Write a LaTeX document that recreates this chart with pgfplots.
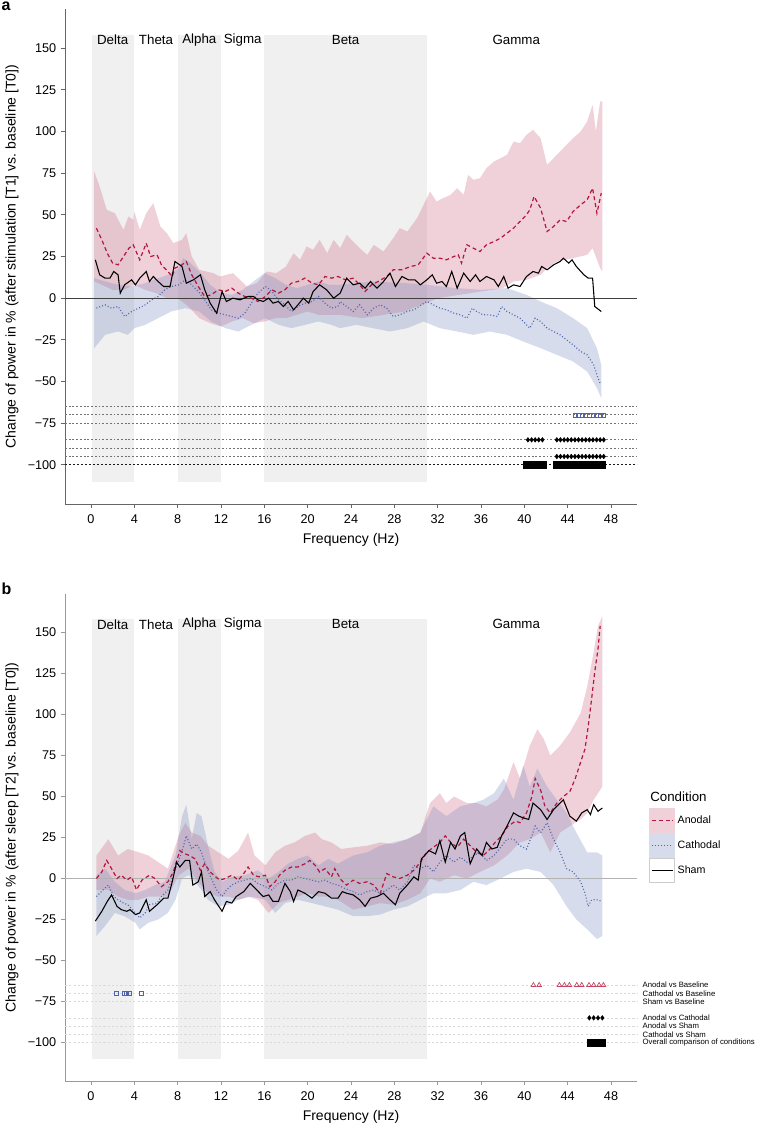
\documentclass[border=0pt]{standalone}
\usepackage{fontspec}
\setmainfont{Liberation Sans}
\usepackage{pgfplots}
\usepackage{pgfplotstable}
\pgfplotsset{compat=1.18}

\definecolor{anod}{RGB}{178,24,62}
\definecolor{cath}{RGB}{80,100,172}
\definecolor{anodfill}{RGB}{205,100,130}
\definecolor{cathfill}{RGB}{120,140,190}
\definecolor{band}{RGB}{240,240,240}
\newcommand{\tfont}{\fontsize{9.5}{11}\selectfont}
\newcommand{\lfont}{\fontsize{10.5}{12}\selectfont}
\newcommand{\sfont}{\fontsize{5.8}{6.5}\selectfont}

% ---------------- Panel a mean curves ----------------
\pgfplotstableread{
x y
0.5 42
1.0 35
1.5 27
2.0 21
2.5 20
3.0 25
3.5 30
3.9 32
4.5 23
5.1 33
5.5 25
6.1 26
6.5 20
7.1 16
7.5 13
7.75 18
8.4 20
8.8 22
9.3 14
9.9 7
10.5 1
11.1 2
11.75 5
12.4 4
13 6
13.6 3
14.2 1
14.8 0
15.4 -2
16.1 1
16.7 5
17.3 3
17.9 5
18.5 9
19.1 10
19.75 12
20.4 9
21 8
21.6 13
22.2 12
22.8 13
23.5 11
24.2 12
24.8 8
25.3 4
25.9 8
26.5 10
27.3 13
27.9 17
28.7 17
29.5 19
30.2 20
31.0 27
31.6 24
32.2 24
32.8 23
33.5 25
33.9 26
34.2 21
34.7 32
35.3 30
35.9 28
36.5 32
37.2 34
37.8 36
38.4 39
39.0 42
39.6 46
40.2 50
40.5 53
40.9 61
41.5 54
42.1 40
42.7 43
43.3 47
43.9 46
44.5 52
45.2 56
45.8 59
46.3 66
46.7 51
47.1 63
}\AmeanA
\pgfplotstableread{
x y
0.5 -6
1.3 -4
1.9 -6
2.5 -5
3.1 -11
3.75 -8
4.4 -6
5.0 -4
5.6 -1
6.2 1
6.8 5
7.4 7
8.1 8
8.7 11
9.3 8
9.9 4
10.5 -1
11.1 -7
11.75 -9
12.4 -10
13.0 -11
13.6 -12
14.2 -9
14.8 -3
15.4 3
16.1 7
16.7 4
17.3 -1
17.9 -4
18.5 -8
19.1 -5
19.75 -3
20.4 -2
21.0 1
21.6 -3
22.2 -6
22.8 -5
23.0 -2
23.6 -5
24.2 -8
24.8 -4
25.5 -10
26.1 -6
26.7 -4
27.3 -6
27.9 -11
28.5 -10
29.2 -8
29.8 -7
30.5 -4
31.0 -2
31.6 -4
32.2 -6
32.8 -7
33.5 -9
34.1 -10
34.7 -12
35.2 -6
35.6 -8
36.2 -10
36.8 -10
37.5 -11
37.9 -5
38.4 -8
39.0 -10
39.6 -12
40.2 -16
40.5 -18
41.0 -12
41.5 -14
42.1 -18
42.7 -20
43.3 -22
43.9 -25
44.5 -28
45.2 -32
45.8 -34
46.4 -40
46.8 -48
47.0 -51
}\CmeanA
\pgfplotstableread{
x y
0.4 23
0.8 14
1.3 12
1.75 12
2.1 16
2.5 14
2.7 3
3.1 8
3.75 11
4.1 8
4.5 12
5.1 16
5.4 10
5.75 13
6.2 10
6.7 7
7.3 7
7.75 22
8.4 19
8.8 9
9.45 11
10.1 14
10.5 5
11.0 -3
11.6 -9
12.1 4
12.5 -2
13.1 0
13.75 -1
14.5 1
15.0 1
15.4 -1
15.9 -2
16.4 0
16.8 -3
17.3 -2
17.75 -5
18.2 -2
18.7 -7
19.1 -4
19.6 0
20.1 -3
20.5 4
21.1 8
21.75 5
22.4 0
23.0 3
23.6 12
24.2 8
24.8 9
25.3 6
25.8 10
26.4 6
27.0 10
27.6 15
28.1 7
28.7 13
29.3 11
29.9 11
30.4 8
31.0 11
31.5 14
31.9 9
32.4 10
32.8 7
33.3 16
33.8 6
34.4 15
35.0 10
35.5 14
35.9 10
36.5 13
37.2 11
37.6 7
38.1 13
38.5 6
39.0 8
39.6 7
40.2 13
40.8 16
41.3 15
41.6 19
42.1 17
42.7 20
43.3 22
43.6 24
44.1 21
44.4 23
44.8 19
45.5 14
45.9 12
46.3 12
46.5 -5
47.1 -8
}\SmeanA

% ---------------- Panel b mean curves ----------------
\pgfplotstableread{
x y
0.5 0
1.0 4
1.45 11
1.9 6
2.4 0
2.8 2
3.3 -1
3.75 1
4.2 -7
4.7 -1
5.4 2
5.9 0
6.5 -5
7.1 -2
7.6 4
8.2 17
8.7 15
9.1 14
9.6 12
10.1 5
10.5 9
11.0 4
11.5 1
11.9 -1
12.4 0
13.0 2
13.6 -1
14.1 3
14.5 7
15.0 2
15.5 1
16.1 2
16.5 -5
17.0 -2
17.4 2
17.9 5
18.5 7
19.1 7
19.75 9
20.2 11
20.7 8
21.1 4
21.6 6
22.2 1
22.5 6
23.1 -1
23.6 -4
24.2 -1
24.8 -3
25.5 -2
26.1 -4
26.7 -9
27.3 3
27.9 1
28.5 0
29.2 2
29.8 5
30.4 10
31.0 16
31.6 19
32.2 22
32.7 26
33.2 22
33.8 19
34.4 24
35.0 20
35.6 16
36.2 14
36.7 17
37.3 22
37.9 26
38.5 32
39.2 35
39.6 34
40.2 40
40.7 50
41.0 61
41.5 54
41.9 44
42.4 40
43.0 46
43.6 50
44.2 53
44.7 61
45.2 71
45.6 79
45.9 93
46.2 109
46.5 126
46.8 140
47.0 154
}\AmeanB
\pgfplotstableread{
x y
0.5 -11
1.1 -7
1.6 -4
2.1 -11
2.5 -13
3.0 -15
3.4 -16
4.1 -21
4.5 -24
5.0 -21
5.4 -16
6.1 -15
6.5 -11
7.1 -7
7.6 2
8.1 11
8.5 19
8.8 26
9.3 18
9.75 21
10.2 16
10.7 6
11.1 0
11.6 -7
12.1 -11
12.5 -7
13.0 -4
13.6 -2
14.2 -1
14.8 0
15.4 -3
16.1 -5
16.7 -7
17.3 -3
17.9 -1
18.5 -1
19.1 1
19.75 0
20.4 -1
21.0 -2
21.6 -1
22.2 -3
22.8 -4
23.4 -6
24.2 -8
24.8 -10
25.5 -8
26.1 -7
26.7 -9
27.3 -7
27.9 -4
28.5 -7
29.2 -2
29.8 8
30.4 6
31.0 8
31.6 4
32.2 10
32.8 14
33.5 10
34.1 13
34.7 10
35.3 14
35.9 16
36.5 11
37.2 14
37.8 19
38.4 24
39.0 24
39.6 20
40.2 18
40.7 26
41.0 32
41.5 28
42.1 34
42.7 24
43.3 16
43.9 6
44.5 4
45.2 -2
45.6 -9
45.9 -17
46.2 -13
46.7 -13
47.2 -14
}\CmeanB
\pgfplotstableread{
x y
0.4 -26
1.0 -20
1.5 -14
1.9 -10
2.4 -17
2.8 -19
3.3 -20
3.6 -19
4.1 -22
4.5 -21
5.1 -13
5.4 -20
6.1 -16
6.7 -12
7.1 -12
7.5 -2
7.9 10
8.2 7
8.7 11
9.1 11
9.4 -4
9.9 -2
10.2 4
10.5 -11
11.0 -8
11.4 -13
12.1 -20
12.5 -14
13.0 -15
13.4 -11
14.1 -8
14.7 -3
15.3 -7
15.9 -11
16.4 -10
16.8 -14
17.3 -14
17.9 -3
18.4 -8
18.7 -14
19.1 -7
19.75 -9
20.4 -12
21.0 -8
21.6 -9
22.2 -12
22.8 -12
23.2 -8
23.6 -9
24.2 -10
24.8 -13
25.3 -17
25.8 -12
26.4 -11
27.0 -9
27.6 -13
28.1 -16
28.5 -9
29.2 -4
29.8 1
30.2 -1
30.5 12
31.2 17
31.8 15
32.2 23
32.7 10
33.2 22
33.6 18
34.1 26
34.5 28
35.0 9
35.6 18
36.1 14
36.5 22
37.0 18
37.5 19
37.9 26
38.4 32
39.0 40
39.5 38
39.9 37
40.4 36
40.8 46
41.5 42
42.1 36
42.7 42
43.6 48
44.2 38
44.8 35
45.3 40
45.8 42
46.1 39
46.4 45
46.8 41
47.2 43
}\SmeanB

\pgfplotsset{
  panel/.style={
    scale only axis, width=429pt,
    xmin=-2.4, xmax=50.4, ymin=-123.5, ymax=173.5,
    axis x line*=bottom, axis y line*=left,
    xtick={0,4,...,48},
    xticklabels={0,4,8,12,16,20,24,28,32,36,40,44,48},
    ytick={-100,-75,-50,-25,0,25,50,75,100,125,150},
    yticklabels={−100,−75,−50,−25,0,25,50,75,100,125,150},
    tick align=outside, major tick length=3pt,
    xticklabel style={font=\tfont, yshift=-1.2pt},
    yticklabel style={font=\tfont},
    xlabel={Frequency (Hz)},
    xlabel style={font=\lfont, anchor=center},
    ylabel style={font=\lfont, anchor=center},
    clip=false,
  },
  bandrect/.style={fill=band, draw=none, forget plot},
  anodline/.style={anod, line width=0.9pt, dash pattern=on 3pt off 2.2pt},
  cathline/.style={cath, line width=0.9pt, dash pattern=on 0.7pt off 1.6pt},
  shamline/.style={black, line width=0.8pt},
  ribA/.style={fill=anodfill, fill opacity=0.3, draw=none, forget plot},
  ribC/.style={fill=cathfill, fill opacity=0.3, draw=none, forget plot},
  rowa/.style={black!55, line width=0.6pt, dash pattern=on 1.4pt off 1.4pt, forget plot},
  rowb/.style={black!15, line width=0.5pt, dash pattern=on 1.6pt off 1.6pt, forget plot},
}

\newcommand{\bands}{%
  \addplot[bandrect] coordinates {(0.1,-110) (4,-110) (4,158) (0.1,158)} -- cycle;
  \addplot[bandrect] coordinates {(8,-110) (12,-110) (12,158) (8,158)} -- cycle;
  \addplot[bandrect] coordinates {(16,-110) (31,-110) (31,158) (16,158)} -- cycle;
  \node[font=\fontsize{10}{12}\selectfont] at (axis cs:2,155) {Delta};
  \node[font=\fontsize{10}{12}\selectfont] at (axis cs:6,155) {Theta};
  \node[font=\fontsize{10}{12}\selectfont] at (axis cs:10,155) {Alpha};
  \node[font=\fontsize{10}{12}\selectfont] at (axis cs:14,155) {Sigma};
  \node[font=\fontsize{10}{12}\selectfont] at (axis cs:23.5,155) {Beta};
  \node[font=\fontsize{10}{12}\selectfont] at (axis cs:39.25,155) {Gamma};
}

\begin{document}
\begin{tikzpicture}
\path[use as bounding box] (0pt,0pt) rectangle (567pt,-844.5pt);
\node[anchor=base west, inner sep=0pt, font=\bfseries\fontsize{12}{12}\selectfont] at (1pt,-8pt) {a};
\node[anchor=base west, inner sep=0pt, font=\bfseries\fontsize{12}{12}\selectfont] at (1pt,-446pt) {b};

% ================= Panel a =================
\begin{axis}[panel, at={(48.75pt,-378pt)}, anchor=south west, height=371.25pt,
  axis line style={-, black!60, line width=0.6pt},
  tick style={black!60, line width=0.6pt},
  ylabel={Change of power in \% (after stimulation [T1] vs.\ baseline [T0])},
  ylabel style={at={(axis description cs:-0.0927,0.5)}},
  xlabel style={at={(axis description cs:0.5,-0.0727)}},
]
\bands
\addplot[rowa] coordinates {(-2.4,-65) (50.4,-65)};
\addplot[rowa] coordinates {(-2.4,-70) (50.4,-70)};
\addplot[rowa] coordinates {(-2.4,-75) (50.4,-75)};
\addplot[rowa] coordinates {(-2.4,-85) (50.4,-85)};
\addplot[rowa] coordinates {(-2.4,-90) (50.4,-90)};
\addplot[rowa] coordinates {(-2.4,-95) (50.4,-95)};
\addplot[black!90, line width=0.7pt, dash pattern=on 1.6pt off 1.4pt, forget plot] coordinates {(-2.4,-100) (50.4,-100)};

% anodal ribbon (upper ascending, lower descending)
\addplot[ribA] coordinates {
(0.3,76) (0.8,67) (1.45,53) (2.2,51) (3.0,41) (3.45,49) (3.9,47) (4.0,52) (4.5,41) (5.1,51)
(5.75,57) (6.4,43) (7.0,39) (7.6,33) (8.4,35) (8.8,39) (9.3,25) (10.0,17) (11.3,15) (11.9,13)
(13.1,15) (14.4,7) (15.3,9) (16.2,16) (17.1,15) (18.0,19) (18.7,27) (19.3,23) (19.9,31) (20.5,29)
(21.1,35) (21.8,27) (22.4,35) (23.0,30) (23.6,38) (24.2,34) (24.8,30) (25.5,26) (26.1,32) (27.0,28)
(27.9,36) (28.5,42) (29.2,40) (30.1,48) (30.7,56) (31.3,64) (31.9,58) (32.5,60) (33.2,62) (33.8,66)
(34.4,62) (34.8,74) (35.3,71) (35.9,72) (36.5,78) (37.2,82) (37.8,84) (38.4,86) (39.0,94) (39.6,93)
(40.2,98) (40.8,101) (41.5,96) (42.1,80) (42.7,84) (43.3,88) (43.9,92) (44.5,96) (45.2,100) (45.8,106)
(46.3,116) (46.6,100) (47.0,118) (47.2,118)
(47.2,16) (47,18) (46.3,30) (45.8,26) (44.5,24) (43,22) (42.1,18) (41.5,14) (40.2,11) (39,10)
(38,6) (36,4) (34,2) (32,0) (31,-3) (30,-5) (29,-8) (27,-10) (25,-12) (23,-10)
(22,-10) (21,-10) (20,-8) (19,-10) (18,-12) (17,-12) (16,-14) (15,-15) (14,-12) (13,-14)
(12,-17) (11,-15) (10,-12) (9,-5) (8,0) (7,0) (6,3) (5,5) (4,8) (3,5) (2,5) (1,8) (0.3,10)
} -- cycle;
% cathodal ribbon
\addplot[ribC] coordinates {
(0.3,12) (1.3,10) (2.5,8) (3.75,7) (5,9) (6.2,12) (7.1,14) (8.1,18) (8.5,24) (9,22)
(10,16) (11,8) (12,3) (13,2) (14,5) (15,10) (16,15) (17,12) (18,8) (19,6)
(20,8) (21,10) (22,8) (23,8) (26,10) (29,9) (31,8) (33.8,6) (36,5) (38.4,6)
(40.2,2) (41.5,-2) (43,-6) (44.5,-12) (45.8,-18) (46.7,-30) (47.1,-40)
(47.1,-60) (46.7,-54) (45.8,-44) (44.5,-38) (43,-34) (41.5,-30) (39.9,-26) (38.4,-22) (36.8,-20) (35.3,-22)
(33.8,-20) (32.2,-18) (30.7,-14) (29.2,-18) (27.6,-20) (26,-18) (24.5,-16) (23,-18) (22.2,-16) (21,-14)
(19.75,-16) (18.5,-18) (17.3,-16) (16.1,-12) (14.8,-16) (13.6,-20) (12.4,-18) (11.1,-14) (10,-8) (8.7,-6)
(7.4,-8) (6.2,-12) (5,-16) (4,-18) (3.4,-22) (2.5,-20) (1.3,-22) (0.3,-30)
} -- cycle;

\addplot[black!75, line width=0.8pt, forget plot] coordinates {(-2.4,0) (50.4,0)};

\addplot[cathline, forget plot] table {\CmeanA};
\addplot[anodline, forget plot] table {\AmeanA};
\addplot[shamline, forget plot] table {\SmeanA};

% significance markers
\addplot[only marks, mark=square, mark size=1.5pt, cath, mark options={line width=0.5pt}, forget plot]
  coordinates {(44.67,-70) (45,-70) (45.33,-70) (45.67,-70) (46,-70) (46.33,-70) (46.67,-70) (47,-70) (47.33,-70)};
\addplot[only marks, mark=diamond*, mark size=1.7pt, black, forget plot]
  coordinates {(40.33,-85) (40.67,-85) (41,-85) (41.33,-85) (41.67,-85)
  (43,-85) (43.33,-85) (43.67,-85) (44,-85) (44.33,-85) (44.67,-85) (45,-85) (45.33,-85) (45.67,-85) (46,-85) (46.33,-85) (46.67,-85) (47,-85) (47.33,-85)};
\addplot[only marks, mark=diamond*, mark size=1.7pt, black, forget plot]
  coordinates {(43,-95) (43.33,-95) (43.67,-95) (44,-95) (44.33,-95) (44.67,-95) (45,-95) (45.33,-95) (45.67,-95) (46,-95) (46.33,-95) (46.67,-95) (47,-95) (47.33,-95)};
\addplot[only marks, mark=square*, mark size=2.5pt, black, forget plot]
  coordinates {(40.25,-100) (40.55,-100) (40.9,-100) (41.25,-100) (41.6,-100) (41.75,-100)
  (43,-100) (43.33,-100) (43.67,-100) (44,-100) (44.33,-100) (44.67,-100) (45,-100) (45.33,-100) (45.67,-100) (46,-100) (46.33,-100) (46.67,-100) (47,-100) (47.2,-100)};
\end{axis}

% ================= Panel b =================
\begin{axis}[panel, at={(48.75pt,-810.75pt)}, anchor=south west, height=365.25pt,
  axis line style={-, black!40, line width=0.6pt},
  tick style={black!40, line width=0.6pt},
  ylabel={Change of power in \% (after sleep [T2] vs.\ baseline [T0])},
  ylabel style={at={(axis description cs:-0.0927,0.5)}},
  xlabel style={at={(axis description cs:0.5,-0.0739)}},
  legend style={at={(rel axis cs:1.021,0.5606)}, anchor=north west, draw=none, fill=none,
    inner sep=0pt, outer sep=0pt, row sep=0pt, font=\fontsize{8}{9}\selectfont},
  legend cell align=left,
]
\bands
\addplot[rowb] coordinates {(-2.4,-65) (50.4,-65)};
\addplot[rowb] coordinates {(-2.4,-70) (50.4,-70)};
\addplot[rowb] coordinates {(-2.4,-75) (50.4,-75)};
\addplot[rowb] coordinates {(-2.4,-85) (50.4,-85)};
\addplot[rowb] coordinates {(-2.4,-90) (50.4,-90)};
\addplot[rowb] coordinates {(-2.4,-95) (50.4,-95)};
\addplot[rowb] coordinates {(-2.4,-100) (50.4,-100)};

% anodal ribbon
\addplot[ribA] coordinates {
(0.5,14) (1.6,24) (2.5,14) (3.4,18) (4.4,16) (5.3,14) (6.2,10) (7.1,6) (8.1,26) (8.7,34)
(9.3,28) (10.1,26) (10.8,20) (11.75,16) (12.7,12) (13.6,17) (14.5,28) (15.1,14) (16.1,8) (17.0,16)
(17.9,20) (18.8,22) (19.75,26) (20.7,28) (21.3,24) (22.2,22) (23.1,18) (24.2,19) (25.5,20) (26.7,22)
(27.9,21) (29.2,24) (30.4,28) (31.3,46) (32.2,52) (32.8,46) (33.5,50) (34.1,48) (34.7,46) (35.6,46)
(36.5,44) (37.5,48) (38.1,54) (39.0,71) (39.6,61) (40.5,81) (41.2,91) (41.8,85) (42.4,75) (43.3,81)
(44.2,89) (45.2,101) (45.8,117) (46.4,138) (46.8,154) (47.2,160)
(47.2,56) (46.4,48) (45.8,40) (45.2,36) (44.2,32) (43.3,28) (42.4,16) (41.5,28) (40.5,24) (39.6,22)
(38.4,14) (37.2,8) (35.9,4) (34.7,0) (33.5,2) (32.2,-2) (31.3,0) (30.4,-9) (29.2,-13) (27.9,-16)
(26.7,-15) (25.5,-17) (24.2,-19) (22.8,-13) (21.9,-11) (21.0,-11) (20.0,-9) (19.1,-11) (18.2,-13) (17.3,-15)
(16.4,-21) (15.4,-13) (14.5,-11) (13.6,-13) (12.7,-11) (11.75,-11) (10.8,-9) (9.9,-2) (9.0,6) (8.1,2)
(7.1,-11) (6.2,-11) (5.3,-11) (4.4,-13) (3.4,-13) (2.5,-11) (1.6,-7) (0.5,-7)
} -- cycle;
% cathodal ribbon
\addplot[ribC] coordinates {
(0.5,2) (1.3,6) (2.2,-2) (3.1,-7) (4.1,-9) (5.0,-7) (5.9,-4) (6.8,-2) (7.8,14) (8.4,38)
(8.8,45) (9.3,24) (9.75,40) (10.2,38) (10.8,20) (11.4,4) (12.1,-2) (13.0,1) (14.2,2) (15.4,5)
(16.4,0) (17.3,4) (18.2,9) (19.1,12) (20.0,14) (21.0,8) (21.9,12) (22.8,9) (24.2,14) (25.5,16)
(26.7,20) (27.9,22) (29.2,24) (30.4,28) (31.6,44) (32.8,38) (34.1,44) (35.3,46) (36.2,48) (37.2,52)
(38.1,61) (39.0,48) (39.9,69) (40.5,56) (41.2,67) (42.1,56) (43.0,48) (43.9,40) (44.8,28) (45.8,16)
(46.7,16) (47.2,14)
(47.2,-35) (46.7,-37) (45.8,-31) (44.8,-25) (43.9,-17) (42.7,-4) (41.5,4) (40.2,6) (39.0,4) (37.8,0)
(36.5,-4) (35.3,-2) (34.1,-7) (32.8,-9) (31.6,-9) (30.4,-13) (29.2,-17) (27.9,-19) (26.7,-22) (25.5,-23)
(24.2,-23) (22.8,-19) (21.6,-17) (20.4,-15) (19.1,-13) (17.9,-15) (17.0,-21) (16.1,-13) (14.8,-11) (13.6,-13)
(12.7,-16) (11.75,-17) (10.8,-13) (10.2,-7) (9.6,-2) (9.0,2) (8.4,0) (7.8,-13) (7.1,-21) (6.2,-25)
(5.3,-27) (4.5,-31) (4.1,-27) (3.1,-23) (2.2,-21) (1.3,-29) (0.5,-35)
} -- cycle;

\addplot[black!30, line width=0.6pt, forget plot] coordinates {(-2.4,0) (50.4,0)};

\addplot[anodline, legend image code/.code={
    \path[fill=anodfill, fill opacity=0.3, draw=none] (0pt,-9.4pt) rectangle (19.5pt,9.4pt);
    \draw[anod, line width=0.9pt, dash pattern=on 3pt off 2.2pt] (2pt,0pt) -- (18pt,0pt);}]
  table {\AmeanB};
\addlegendentry{Anodal}
\addplot[cathline, legend image code/.code={
    \path[fill=cathfill, fill opacity=0.3, draw=none] (0pt,-9.4pt) rectangle (19.5pt,9.4pt);
    \draw[cath, line width=0.9pt, dash pattern=on 0.7pt off 1.6pt] (2pt,0pt) -- (18pt,0pt);}]
  table {\CmeanB};
\addlegendentry{Cathodal}
\addplot[shamline, legend image code/.code={
    \draw[black!20, fill=white, line width=0.5pt, solid] (0.25pt,-9.1pt) rectangle (19.25pt,9.1pt);
    \draw[black, line width=0.8pt, solid] (2pt,0pt) -- (18pt,0pt);}]
  table {\SmeanB};
\addlegendentry{Sham}

\node[anchor=west, inner sep=0pt, font=\fontsize{10}{12}\selectfont] at (rel axis cs:1.0227,0.583) {Condition};

% significance markers
\addplot[only marks, mark=triangle, mark size=2pt, anod!80, mark options={line width=0.5pt}, forget plot]
  coordinates {(40.84,-65) (41.37,-65) (43.24,-65) (43.7,-65) (44.16,-65) (44.84,-65) (45.3,-65) (45.97,-65) (46.4,-65) (46.9,-65) (47.3,-65)};
\addplot[only marks, mark=square, mark size=1.5pt, cath, mark options={line width=0.5pt}, forget plot]
  coordinates {(2.34,-70) (3.08,-70) (3.3,-70) (3.54,-70) (4.68,-70)};
\addplot[only marks, mark=diamond*, mark size=1.7pt, black, forget plot]
  coordinates {(46,-85) (46.4,-85) (46.8,-85) (47.2,-85)};
\addplot[only marks, mark=square*, mark size=2.5pt, black, forget plot]
  coordinates {(46.1,-100) (46.4,-100) (46.7,-100) (47,-100) (47.2,-100)};

\node[anchor=west, inner sep=0pt, font=\sfont] at (axis cs:50.9,-65) {Anodal vs Baseline};
\node[anchor=west, inner sep=0pt, font=\sfont] at (axis cs:50.9,-70) {Cathodal vs Baseline};
\node[anchor=west, inner sep=0pt, font=\sfont] at (axis cs:50.9,-75) {Sham vs Baseline};
\node[anchor=west, inner sep=0pt, font=\sfont] at (axis cs:50.9,-85) {Anodal vs Cathodal};
\node[anchor=west, inner sep=0pt, font=\sfont] at (axis cs:50.9,-90) {Anodal vs Sham};
\node[anchor=west, inner sep=0pt, font=\sfont] at (axis cs:50.9,-95) {Cathodal vs Sham};
\node[anchor=west, inner sep=0pt, font=\sfont] at (axis cs:50.9,-100) {Overall comparison of conditions};
\end{axis}
\end{tikzpicture}
\end{document}
